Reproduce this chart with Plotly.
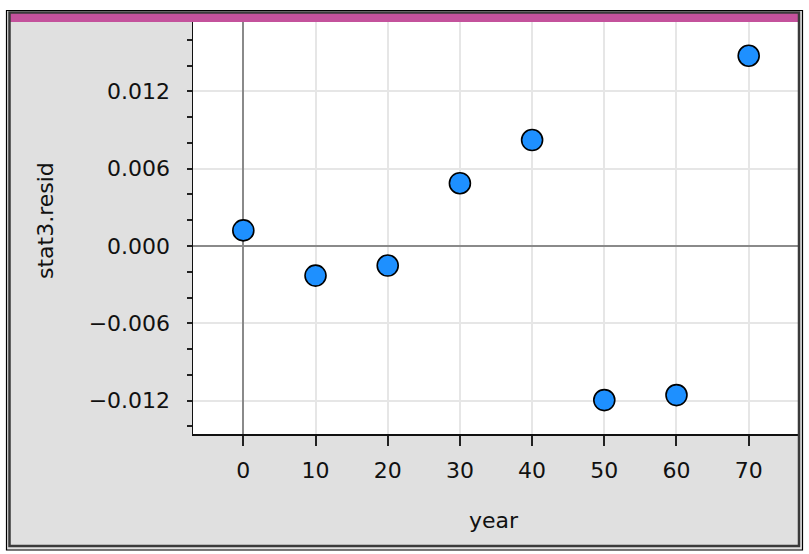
import plotly.graph_objects as go

years = [0, 10, 20, 30, 40, 50, 60, 70]
resid = [0.00121, -0.00230, -0.00152, 0.00487, 0.00822, -0.01196, -0.01157, 0.01476]

y_tickvals = [-0.012, -0.006, 0.0, 0.006, 0.012]
y_ticktext = ["\u22120.012", "\u22120.006", "0.000", "0.006", "0.012"]
y_minor = [-0.014, -0.010, -0.008, -0.004, -0.002, 0.002, 0.004, 0.008, 0.010, 0.014, 0.016]
x_tickvals = [0, 10, 20, 30, 40, 50, 60, 70]

W, H = 809, 554
L, R, T, B = 193, 798, 22, 434

def px(x):
    return (x - L) / (R - L)

def py(y):
    return (B - y) / (B - T)

FONT = "DejaVu Sans"
FS = 22

fig = go.Figure()
fig.add_trace(go.Scatter(
    x=years, y=resid, mode="markers",
    marker=dict(size=21, color="#1E90FF", line=dict(color="black", width=1.6)),
    hoverinfo="skip", showlegend=False,
))

def strip(x0, x1, y0, y1):
    return dict(type="rect", xref="paper", yref="paper",
                x0=px(x0), x1=px(x1), y0=py(y0), y1=py(y1),
                fillcolor="white", line=dict(width=0), layer="above")

fig.update_layout(
    width=W, height=H,
    margin=dict(l=L, r=W - R, t=T, b=H - B, pad=0),
    paper_bgcolor="#E0E0E0",
    plot_bgcolor="white",
    font=dict(family=FONT, size=FS, color="#111111"),
    showlegend=False,
    xaxis=dict(
        range=[-6.97, 76.83],
        tickmode="array", tickvals=x_tickvals,
        ticks="outside", ticklen=10, tickwidth=2, tickcolor="#222222",
        showgrid=True, gridcolor="#E6E6E6", gridwidth=2,
        zeroline=True, zerolinecolor="#8A8A8A", zerolinewidth=2,
        showline=True, linecolor="#111111", linewidth=1.5, mirror=False,
        ticklabelstandoff=6,
        fixedrange=True,
    ),
    yaxis=dict(
        range=[-0.01459, 0.01738],
        tickmode="array", tickvals=y_tickvals, ticktext=y_ticktext,
        ticks="outside", ticklen=5, tickwidth=2, tickcolor="#222222",
        minor=dict(tickmode="array", tickvals=y_minor, ticks="outside", ticklen=5,
                   tickwidth=2, tickcolor="#222222", showgrid=False),
        showgrid=True, gridcolor="#E6E6E6", gridwidth=2,
        zeroline=True, zerolinecolor="#8A8A8A", zerolinewidth=2,
        showline=True, linecolor="#111111", linewidth=1.5, mirror=False,
        ticklabelstandoff=12,
        fixedrange=True,
    ),
    shapes=[
        strip(0, W, 0, 10),
        strip(0, 6, 0, H),
        strip(803, W, 0, H),
        strip(0, W, 550.5, H),
        dict(type="rect", xref="paper", yref="paper",
             x0=px(10), x1=px(799), y0=py(13), y1=py(22),
             fillcolor="#C4529C", line=dict(width=0), layer="above"),
        dict(type="rect", xref="paper", yref="paper",
             x0=px(9.5), x1=px(799), y0=py(12.5), y1=py(546),
             fillcolor="rgba(0,0,0,0)", line=dict(color="#3A3A3A", width=2.5), layer="above"),
        dict(type="rect", xref="paper", yref="paper",
             x0=px(6.5), x1=px(802.5), y0=py(10.5), y1=py(550),
             fillcolor="rgba(0,0,0,0)", line=dict(color="black", width=1.2), layer="above"),
    ],
    annotations=[
        dict(text="stat3.resid", xref="paper", yref="paper",
             x=px(45), y=py(221), xanchor="center", yanchor="middle",
             textangle=-90, showarrow=False, font=dict(family=FONT, size=FS, color="#111111")),
        dict(text="year", xref="paper", yref="paper",
             x=px(494), y=py(520), xanchor="center", yanchor="middle",
             showarrow=False, font=dict(family=FONT, size=FS, color="#111111")),
    ],
)

fig.write_html("out.html",
               config={"displayModeBar": False, "staticPlot": True},
               post_script="document.body.style.margin='0';document.body.style.padding='0';document.body.style.overflow='hidden';")
